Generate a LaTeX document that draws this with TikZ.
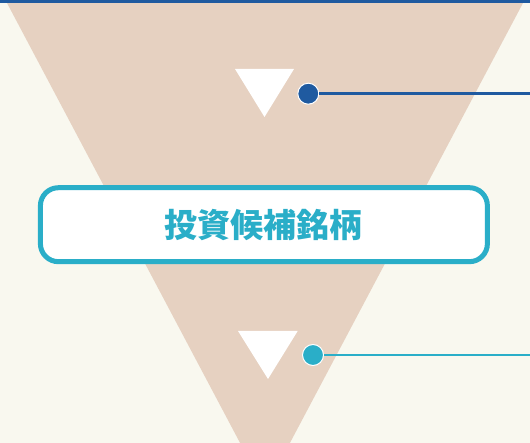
\documentclass[tikz,border=0pt]{standalone}
\usepackage{fontspec}
\newfontfamily\cjk{Noto Sans CJK JP}
\definecolor{bgc}{HTML}{F9F8EF}
\definecolor{funnelc}{HTML}{E6D1C1}
\definecolor{navy}{HTML}{1F5AA0}
\definecolor{teal}{HTML}{2AAEC8}
\tikzset{
  dotnode/.style={circle,minimum size=21pt,inner sep=0pt,draw=white,line width=1pt},
  leader/.style={line width=2.4pt},
  marker/.style={fill=white},
  labelbox/.style={draw=teal,line width=5pt,fill=white,rounded corners=18pt,
    minimum width=447pt,minimum height=74pt,inner sep=0pt,
    font=\cjk\bfseries\fontsize{33}{36}\selectfont,text=teal}
}
\begin{document}
\begin{tikzpicture}[x=1pt,y=-1pt]
\useasboundingbox (0,0) rectangle (530,443);
\fill[bgc] (0,0) rectangle (530,443);
\begin{scope}
\clip (0,0) rectangle (530,443);
\fill[funnelc] (5.4,0) -- (524.6,0) -- (265,490) -- cycle;
\end{scope}
\fill[navy] (0,0) rectangle (530,3);
% upper marker
\fill[marker] (235,69) -- (294,69) -- (264.5,117) -- cycle;
\node[dotnode,fill=navy] (d1) at (308.3,93.7) {};
\coordinate (e1) at (530,93.7);
\draw[leader,navy] (d1.east) -- (e1);
% lower marker
\fill[marker] (238,331) -- (297.7,331) -- (268,379) -- cycle;
\node[dotnode,fill=teal] (d2) at (313,355) {};
\coordinate (e2) at (530,355);
\draw[leader,teal] (d2.east) -- (e2);
% box
\node[labelbox] (box) at (263.9,224.7) {投資候補銘柄};
\end{tikzpicture}
\end{document}
